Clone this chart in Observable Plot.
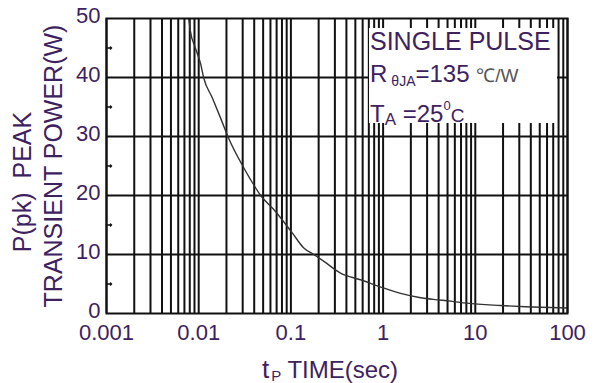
<!DOCTYPE html>
<html><head><meta charset="utf-8">
<script src="https://cdn.jsdelivr.net/npm/d3@7"></script>
<script src="https://cdn.jsdelivr.net/npm/@observablehq/plot@0.6"></script>
<style>
body{margin:0;background:#fff}
svg{display:block;font-family:"Liberation Sans",Arial,sans-serif}
</style>
</head><body><div id="chart"></div>
<script>
// pulse time (s) and peak transient power (W)
const time  = [0.0078, 0.0081, 0.0092, 0.0105, 0.0113, 0.014, 0.0172, 0.021, 0.0308, 0.0365, 0.047, 0.068, 0.103, 0.138, 0.177, 0.228, 0.345, 0.569, 1.02, 1.55, 2.4, 3.5, 5.4, 8.1, 18.7, 35, 65, 100];
const power = [50, 48, 45, 42.3, 40, 36.6, 33.2, 29.8, 24.7, 22.7, 20, 17.3, 13.7, 11.1, 10, 8.84, 6.85, 5.72, 4.3, 3.4, 2.75, 2.4, 2.1, 1.75, 1.36, 1.15, 1.02, 0.92];

const xTicks = [0.001, 0.01, 0.1, 1, 10, 100];
const xTickLabels = ["0.001", "0.01", "0.1", "1", "10", "100"];
const xGrid = [0.001,0.002,0.003,0.004,0.005,0.006,0.007,0.008,0.009,
               0.01,0.02,0.03,0.04,0.05,0.06,0.07,0.08,0.09,
               0.1,0.2,0.3,0.4,0.5,0.6,0.7,0.8,0.9,
               1,2,3,4,5,6,7,8,9,
               10,20,30,40,50,60,70,80,90,100];
const yTicks = [0, 10, 20, 30, 40, 50];
const yTickLabels = ["0", "10", "20", "30", "40", "50"];
const yGrid = [10, 20, 30, 40];
const yMinor = [5, 15, 25, 35, 45];

const xTitle = ["t", "P", " TIME(sec)"];
const yTitle = ["P(pk)\u00a0 PEAK", "TRANSIENT POWER(W)"];
const noteLine1 = "SINGLE PULSE";
const noteLine2 = ["R", "\u03b8JA", "=135 ", "\u2103/W"];
const noteLine3 = ["T", "A", " =25", "0", "C"];

const W = 594, H = 383, mL = 106, mR = 27, mT = 18, mB = 70;
const txt = "#3d2160";
const data = time.map((t, i) => ({t, p: power[i]}));

const chart = Plot.plot({
  width: W, height: H,
  marginLeft: mL, marginRight: mR, marginTop: mT, marginBottom: mB,
  style: {fontFamily: "'Liberation Sans', Arial, sans-serif", background: "#fff"},
  x: {type: "log", domain: [0.001, 100]},
  y: {domain: [0, 50]},
  marks: [
    Plot.ruleX(xGrid, {stroke: "#111", strokeWidth: 2}),
    Plot.ruleY(yGrid, {stroke: "#111", strokeWidth: 2}),
    Plot.vector(yMinor, {y: d => d, frameAnchor: "left", length: 5, rotate: 90, anchor: "start", stroke: "#111", strokeWidth: 1.5}),
    Plot.line(data, {x: "t", y: "p", stroke: "#333", strokeWidth: 1.4, curve: "monotone-x"}),
    Plot.frame({stroke: "#111", strokeWidth: 2}),
    Plot.axisX(xTicks, {tickSize: 0, tickPadding: 11, fontSize: 22, fill: txt,
      tickFormat: d => xTickLabels[xTicks.indexOf(d)], label: null}),
    Plot.axisY(yTicks, {tickSize: 0, tickPadding: 6, fontSize: 22, fill: txt, dy: -3,
      tickFormat: d => yTickLabels[yTicks.indexOf(d)], label: null})
  ]
});
document.getElementById("chart").appendChild(chart);

const svg = d3.select(chart);
// y title (two rotated lines)
svg.append("text").attr("transform", "translate(31,182) rotate(-90)").attr("text-anchor", "middle")
  .attr("font-size", 25).attr("fill", txt).text(yTitle[0]);
svg.append("text").attr("transform", "translate(62,166) rotate(-90)").attr("text-anchor", "middle")
  .attr("font-size", 25).attr("fill", txt).text(yTitle[1]);
// annotation box (upper right)
const bx = W - mR - 198, by = mT + 10, bw = 188, bh = 95;
svg.append("rect").attr("x", bx).attr("y", by).attr("width", bw).attr("height", bh).attr("fill", "#fff");
const g = svg.append("g").attr("fill", txt).attr("text-anchor", "start");
g.append("text").attr("x", bx + 1).attr("y", by + 22).attr("font-size", 25).text(noteLine1);
const t2 = g.append("text").attr("x", bx + 1).attr("y", by + 54).attr("font-size", 24);
t2.append("tspan").text(noteLine2[0]);
t2.append("tspan").attr("font-size", 14).attr("dx", 4).attr("dy", 4).text(noteLine2[1]);
t2.append("tspan").attr("dy", -4).text(noteLine2[2]);
t2.append("tspan").attr("font-size", 19).attr("fill", "#555").text(noteLine2[3]);
const t3 = g.append("text").attr("x", bx + 1).attr("y", by + 94).attr("font-size", 24);
t3.append("tspan").text(noteLine3[0]);
t3.append("tspan").attr("font-size", 17).attr("dy", 3).text(noteLine3[1]);
t3.append("tspan").attr("dy", -3).text(noteLine3[2]);
t3.append("tspan").attr("font-size", 13).attr("dy", -12).text(noteLine3[3]);
t3.append("tspan").attr("font-size", 19).attr("dy", 12).text(noteLine3[4]);
// x title
const xt = svg.append("text").attr("x", 330).attr("y", 378).attr("text-anchor", "middle").attr("font-size", 24).attr("fill", txt);
xt.append("tspan").attr("font-size", 26).text(xTitle[0]);
xt.append("tspan").attr("font-size", 15).attr("dx", 2).attr("dy", 3).text(xTitle[1]);
xt.append("tspan").attr("dy", -3).text(xTitle[2]);
</script>
</body></html>
